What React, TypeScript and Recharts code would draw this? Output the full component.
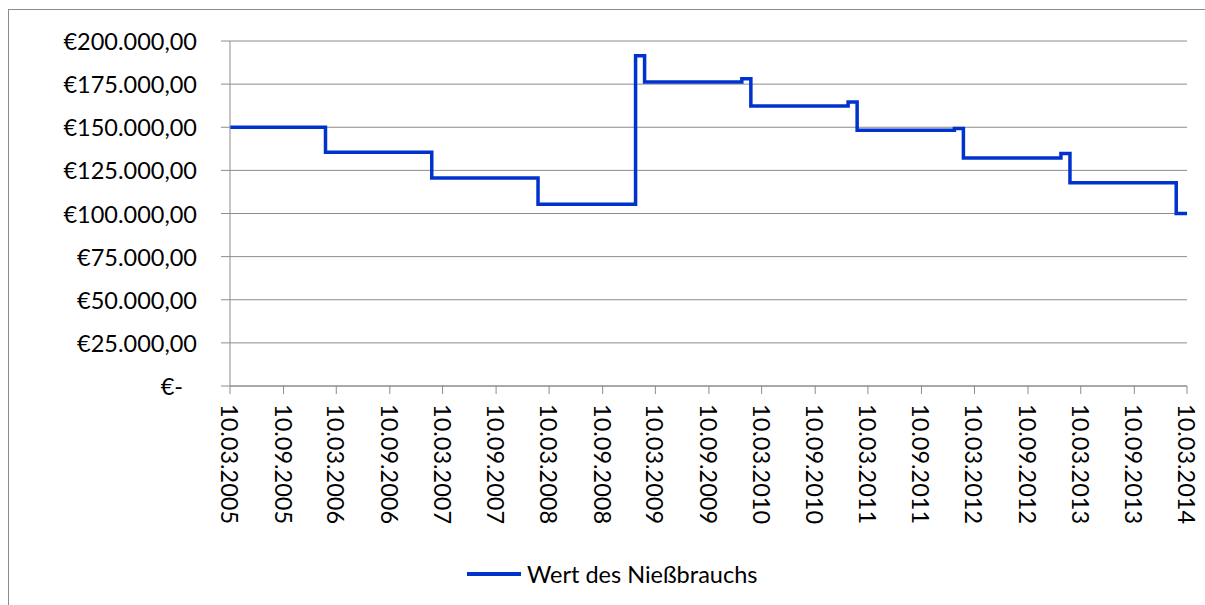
import { LineChart, Line, XAxis, YAxis, CartesianGrid, Legend } from 'recharts';

// dates where the value changes (dd.mm.yyyy) and the value from that date on
const changeDates = [
  '10.03.2005', '01.02.2006', '01.02.2007', '01.02.2008', '01.01.2009',
  '01.02.2009', '01.01.2010', '01.02.2010', '01.01.2011', '01.02.2011',
  '01.01.2012', '01.02.2012', '01.01.2013', '01.02.2013', '01.02.2014',
  '10.03.2014',
];
const values = [
  150000, 135500, 120600, 105300, 191500,
  176300, 178100, 162300, 164600, 148200,
  149300, 132200, 134800, 117800, 100000,
  100000,
];

const tickLabels = [
  '10.03.2005', '10.09.2005', '10.03.2006', '10.09.2006', '10.03.2007',
  '10.09.2007', '10.03.2008', '10.09.2008', '10.03.2009', '10.09.2009',
  '10.03.2010', '10.09.2010', '10.03.2011', '10.09.2011', '10.03.2012',
  '10.09.2012', '10.03.2013', '10.09.2013', '10.03.2014',
];
const yTicks = [0, 25000, 50000, 75000, 100000, 125000, 150000, 175000, 200000];
const seriesName = 'Wert des Nießbrauchs';

const FONT = 'Lato, "Open Sans", sans-serif';
const FS = 23.5;
const BLUE = '#0033cc';
const GRAY = '#8c8c8c';

function parseDE(s: string): number {
  const [d, m, y] = s.split('.').map(Number);
  return Date.UTC(y, m - 1, d);
}

function formatDE(t: number): string {
  const d = new Date(t);
  const dd = String(d.getUTCDate()).padStart(2, '0');
  const mm = String(d.getUTCMonth() + 1).padStart(2, '0');
  return `${dd}.${mm}.${d.getUTCFullYear()}`;
}

function formatEuro(v: number): string {
  if (v === 0) return '€-';
  const s = v.toLocaleString('de-DE', { minimumFractionDigits: 2, maximumFractionDigits: 2 });
  return `€${s}`;
}

const data = changeDates.map((d, i) => ({ t: parseDE(d), value: values[i] }));
const xTicks = tickLabels.map(parseDE);

function YTick({ x, y, payload }: any) {
  const shift = payload.value === 0 ? -14 : 0;
  return (
    <text x={x + shift} y={y} textAnchor="end" dominantBaseline="central" fill="#000" fontSize={FS} fontFamily={FONT}>
      {formatEuro(payload.value)}
    </text>
  );
}

function XTick({ x, y, payload }: any) {
  return (
    <g transform={`translate(${x},${y})`}>
      <text x={8} y={0} transform="rotate(90)" textAnchor="start" dominantBaseline="central" fill="#000" fontSize={FS} fontFamily={FONT}>
        {formatDE(payload.value)}
      </text>
    </g>
  );
}

function LegendContent() {
  return (
    <div style={{ display: 'flex', alignItems: 'center', height: 30, fontFamily: FONT, fontSize: FS, color: '#000', whiteSpace: 'nowrap' }}>
      <span style={{ display: 'inline-block', width: 54, height: 4, background: BLUE, marginRight: 6 }} />
      <span>{seriesName}</span>
    </div>
  );
}

export default function App() {
  // the frame runs past the window edge, so only top and left edges are drawn
  return (
    <div style={{
      position: 'fixed', left: 8, top: 9, width: 1200, height: 602,
      borderTop: `1px solid ${GRAY}`, borderLeft: `1px solid ${GRAY}`,
      boxSizing: 'border-box', background: '#fff',
    }}>
      <LineChart width={1198} height={600} data={data} margin={{ top: 31, right: 20, left: 0, bottom: 21 }}>
        <CartesianGrid vertical={false} stroke={GRAY} />
        <XAxis
          dataKey="t"
          type="number"
          domain={[xTicks[0], xTicks[xTicks.length - 1]]}
          ticks={xTicks}
          interval={0}
          tick={<XTick />}
          tickSize={8}
          tickMargin={2}
          height={173}
          axisLine={{ stroke: GRAY }}
          tickLine={{ stroke: GRAY }}
        />
        <YAxis
          domain={[0, 200000]}
          ticks={yTicks}
          interval={0}
          tick={<YTick />}
          tickSize={9}
          tickMargin={24}
          width={221}
          axisLine={{ stroke: GRAY }}
          tickLine={{ stroke: GRAY }}
        />
        <Legend
          content={<LegendContent />}
          wrapperStyle={{ left: 458, bottom: 21, width: 360, height: 30 }}
        />
        <Line
          type="stepAfter"
          dataKey="value"
          name={seriesName}
          stroke={BLUE}
          strokeWidth={3.5}
          dot={false}
          activeDot={false}
          isAnimationActive={false}
        />
      </LineChart>
    </div>
  );
}
